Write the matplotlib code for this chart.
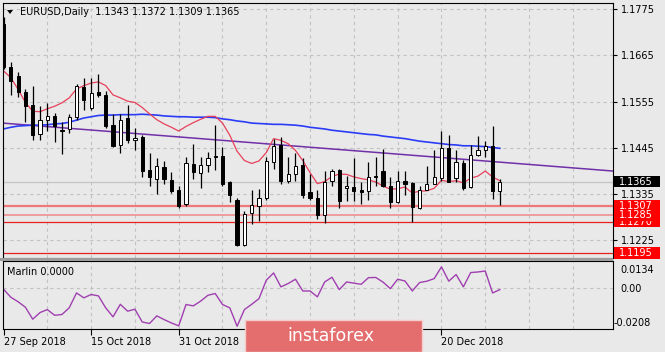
import matplotlib.pyplot as plt
import matplotlib.patches as mpatches
from matplotlib.transforms import blended_transform_factory
import pandas as pd

# daily bars, 27 Sep 2018 .. 3 Jan 2019 (no bars on 25 Dec and 1 Jan)
days = pd.bdate_range('2018-09-27', '2019-01-03')
days = days[~days.isin(pd.to_datetime(['2018-12-25', '2019-01-01']))]

opens = [1.1739, 1.1637, 1.1615, 1.1578, 1.1548, 1.1477, 1.1512, 1.1520, 1.1488, 1.1490,
         1.1518, 1.1589, 1.1540, 1.1578, 1.1571, 1.1499, 1.1453, 1.1516, 1.1463, 1.1471,
         1.1393, 1.1371, 1.1399, 1.1369, 1.1344, 1.1311, 1.1406, 1.1385, 1.1405, 1.1426,
         1.1426, 1.1363, 1.1322, 1.1215, 1.1291, 1.1308, 1.1326, 1.1412, 1.1453, 1.1367,
         1.1383, 1.1404, 1.1340, 1.1326, 1.1286, 1.1367, 1.1393, 1.1349, 1.1352, 1.1344,
         1.1342, 1.1379, 1.1390, 1.1354, 1.1316, 1.1367, 1.1361, 1.1303, 1.1346, 1.1360,
         1.1373, 1.1444, 1.1373, 1.1409, 1.1352, 1.1428, 1.1439, 1.1450, 1.1343]
highs = [1.1755, 1.1649, 1.1625, 1.1584, 1.1593, 1.1545, 1.1551, 1.1529, 1.1506, 1.1526,
         1.1598, 1.1612, 1.1612, 1.1620, 1.1581, 1.1526, 1.1526, 1.1548, 1.1493, 1.1475,
         1.1432, 1.1422, 1.1414, 1.1387, 1.1354, 1.1424, 1.1455, 1.1424, 1.1436, 1.1499,
         1.1447, 1.1367, 1.1326, 1.1295, 1.1346, 1.1348, 1.1424, 1.1466, 1.1471, 1.1424,
         1.1432, 1.1420, 1.1383, 1.1344, 1.1390, 1.1395, 1.1395, 1.1379, 1.1420, 1.1365,
         1.1412, 1.1424, 1.1442, 1.1375, 1.1390, 1.1391, 1.1365, 1.1354, 1.1401, 1.1440,
         1.1485, 1.1475, 1.1440, 1.1417, 1.1453, 1.1473, 1.1461, 1.1496, 1.1372]
lows = [1.1633, 1.1571, 1.1567, 1.1506, 1.1463, 1.1463, 1.1485, 1.1458, 1.1431, 1.1480,
        1.1512, 1.1534, 1.1534, 1.1565, 1.1493, 1.1447, 1.1432, 1.1457, 1.1439, 1.1377,
        1.1354, 1.1336, 1.1360, 1.1338, 1.1303, 1.1308, 1.1371, 1.1350, 1.1387, 1.1393,
        1.1354, 1.1316, 1.1213, 1.1213, 1.1264, 1.1271, 1.1322, 1.1394, 1.1358, 1.1361,
        1.1367, 1.1327, 1.1322, 1.1277, 1.1267, 1.1354, 1.1303, 1.1318, 1.1319, 1.1311,
        1.1322, 1.1354, 1.1352, 1.1303, 1.1313, 1.1334, 1.1270, 1.1300, 1.1344, 1.1358,
        1.1367, 1.1363, 1.1363, 1.1344, 1.1350, 1.1426, 1.1424, 1.1324, 1.1309]
closes = [1.1637, 1.1604, 1.1578, 1.1545, 1.1475, 1.1512, 1.1520, 1.1498, 1.1485, 1.1518,
          1.1592, 1.1559, 1.1575, 1.1571, 1.1496, 1.1450, 1.1512, 1.1463, 1.1469, 1.1390,
          1.1375, 1.1401, 1.1371, 1.1342, 1.1308, 1.1408, 1.1387, 1.1405, 1.1422, 1.1423,
          1.1360, 1.1334, 1.1215, 1.1289, 1.1309, 1.1327, 1.1414, 1.1450, 1.1367, 1.1383,
          1.1401, 1.1334, 1.1326, 1.1286, 1.1365, 1.1391, 1.1318, 1.1354, 1.1342, 1.1340,
          1.1375, 1.1377, 1.1354, 1.1316, 1.1367, 1.1358, 1.1305, 1.1346, 1.1358, 1.1377,
          1.1444, 1.1365, 1.1412, 1.1350, 1.1428, 1.1440, 1.1450, 1.1342, 1.1365]

# moving averages as shown on the chart
red_ma = [1.1628, 1.1612, 1.1584, 1.1553, 1.1532, 1.1531, 1.1538, 1.1544, 1.1552, 1.1564,
          1.1585, 1.1593, 1.1599, 1.1602, 1.1593, 1.1571, 1.1564, 1.1556, 1.1553, 1.1541,
          1.1526, 1.1512, 1.1502, 1.1494, 1.1485, 1.1496, 1.1505, 1.1513, 1.1520, 1.1520,
          1.1504, 1.1475, 1.1437, 1.1415, 1.1408, 1.1414, 1.1434, 1.1467, 1.1463, 1.1455,
          1.1439, 1.1415, 1.1386, 1.1360, 1.1365, 1.1377, 1.1383, 1.1382, 1.1376, 1.1372,
          1.1369, 1.1364, 1.1354, 1.1347, 1.1348, 1.1352, 1.1338, 1.1342, 1.1343, 1.1349,
          1.1368, 1.1365, 1.1367, 1.1362, 1.1373, 1.1378, 1.1390, 1.1376, 1.1367]
blue_ma = [1.1490, 1.1494, 1.1497, 1.1498, 1.1499, 1.1499, 1.1500, 1.1502, 1.1503, 1.1506,
           1.1511, 1.1516, 1.1519, 1.1522, 1.1523, 1.1523, 1.1524, 1.1524, 1.1524, 1.1525,
           1.1524, 1.1523, 1.1521, 1.1520, 1.1519, 1.1519, 1.1518, 1.1518, 1.1518, 1.1517,
           1.1514, 1.1512, 1.1509, 1.1507, 1.1504, 1.1503, 1.1502, 1.1501, 1.1501, 1.1500,
           1.1499, 1.1497, 1.1494, 1.1492, 1.1490, 1.1487, 1.1485, 1.1483, 1.1481, 1.1479,
           1.1477, 1.1476, 1.1473, 1.1471, 1.1469, 1.1467, 1.1464, 1.1461, 1.1459, 1.1457,
           1.1455, 1.1453, 1.1452, 1.1450, 1.1450, 1.1449, 1.1448, 1.1446, 1.1444]
trend_x = [-0.14, 83.5]
trend_y = [1.1504, 1.1390]

levels = [1.1307, 1.1285, 1.1270, 1.1195]
price_ticks = [1.1775, 1.1665, 1.1555, 1.1445, 1.1335, 1.1225]
last_price = 1.1365

marlin = [-0.0004, -0.0045, -0.0068, -0.0096, -0.0157, -0.0123, -0.0108, -0.0137, -0.0133, -0.0099,
          -0.0023, -0.0048, -0.0031, -0.0038, -0.0099, -0.0145, -0.0081, -0.0116, -0.0106, -0.0171,
          -0.0179, -0.0140, -0.0159, -0.0176, -0.0191, -0.0082, -0.0089, -0.0065, -0.0035, -0.0026,
          -0.0082, -0.0099, -0.0193, -0.0108, -0.0081, -0.0052, 0.0042, 0.0079, 0.0008, 0.0025,
          0.0047, -0.0013, -0.0013, -0.0043, 0.0033, 0.0057, -0.0006, 0.0033, 0.0027, 0.0021,
          0.0055, 0.0056, 0.0032, -0.0001, 0.0047, 0.0038, -0.0013, 0.0030, 0.0037, 0.0050,
          0.0110, 0.0037, 0.0071, 0.0008, 0.0081, 0.0084, 0.0089, -0.0023, -0.0006]

# date labels visible on the chart (the others sit under the watermark)
date_idx = [0, 12, 24, 60]

BG = '#e9e9e9'
GRID = '#c2c2c2'
W, H = 665, 352


def box(l, t, r, b):
    return [l / W, 1 - b / H, (r - l) / W, (b - t) / H]


fig = plt.figure(figsize=(W / 100, H / 100), dpi=100, facecolor=BG)
ax = fig.add_axes(box(2.5, 3, 613, 258), facecolor=BG)
ax2 = fig.add_axes(box(2.5, 261, 613, 329), facecolor=BG, sharex=ax)

idx = list(range(len(days)))

# grid
for a in (ax, ax2):
    for g in range(6, 84, 6):
        a.axvline(g, color=GRID, lw=0.8, ls=(0, (3, 3)), zorder=0)
for p in price_ticks:
    ax.axhline(p, color=GRID, lw=0.8, ls=(0, (3, 3)), zorder=0)
ax2.axhline(0, color=GRID, lw=0.8, ls=(0, (3, 3)), zorder=0)

ax.axhline(last_price, color='#c6c6c6', lw=1, zorder=0.5)

# support levels
ax.axhline(levels[0], color='#f07878', lw=1.6, zorder=1)
ax.axhline(levels[1], color='#f09090', lw=1.2, zorder=1)
ax.axhline(levels[2], color='#e82020', lw=0.9, zorder=1)
ax.axhline(levels[3], color='#e82020', lw=0.9, zorder=1)

# indicators
ax.plot(trend_x, trend_y, color='#7030a8', lw=1.1, zorder=2)
ax.plot(idx, blue_ma, color='#2a3cf5', lw=1.2, zorder=2)
ax.plot(idx, red_ma, color='#e8405a', lw=0.9, zorder=2)

# candles
ax.vlines(idx, lows, highs, color='black', lw=0.9, zorder=3)
bottoms = [min(o, c) for o, c in zip(opens, closes)]
heights = [max(abs(c - o), 0.00004) for o, c in zip(opens, closes)]
colors = ['white' if c > o else 'black' for o, c in zip(opens, closes)]
ax.bar(idx, heights, bottom=bottoms, width=0.44, color=colors,
       edgecolor='black', linewidth=0.7, zorder=4)

ax.set_xlim(-0.14, 83.5)
ax.set_ylim(1.11833, 1.17894)

# right price scale
ax.yaxis.tick_right()
ax.set_yticks(price_ticks)
ax.set_yticklabels([f'{p:.4f}' for p in price_ticks])
ax.tick_params(axis='y', length=3, width=0.8, pad=3, labelsize=7, colors='black')
ax.tick_params(axis='x', bottom=False, labelbottom=False)

tr = blended_transform_factory(ax.transAxes, ax.transData)
hh = 5.5 / 4073
bx0 = (614 - 2.5) / 610.5
bw = 46 / 610.5
tx = (619 - 2.5) / 610.5
tags = [(last_price, '#000000'), (levels[0], '#ff0000'), (levels[2], '#ff0000'),
        (levels[1], '#ff0000'), (levels[3], '#ff0000')]
z = 10
for val, fc in tags:
    ax.add_patch(mpatches.Rectangle((bx0, val - hh), bw, 2 * hh, transform=tr,
                                    clip_on=False, fc=fc, ec='none', zorder=z))
    ax.text(tx, val, f'{val:.4f}', transform=tr, va='center', ha='left',
            fontsize=7, color='white', clip_on=False, zorder=z + 1)
    z += 2

for s in ax.spines.values():
    s.set_color('black')
    s.set_linewidth(0.8)

# Marlin panel
ax2.plot(idx, marlin, color='#a040b0', lw=1.0)
ax2.set_ylim(-0.0207, 0.0140)
ax2.set_yticks([])
ax2.text(0.0074, 0.838, 'Marlin 0.0000', transform=ax2.transAxes, va='center',
         ha='left', fontsize=7)
for yf, lab, xp in [(0.868, '0.0134', 620), (0.588, '0.00', 620), (0.088, '-0.0208', 614)]:
    ax2.text((xp - 2.5) / 610.5, yf, lab, transform=ax2.transAxes, va='center',
             ha='left', fontsize=7, clip_on=False)
for s in ax2.spines.values():
    s.set_color('black')
    s.set_linewidth(0.8)

ax2.set_xticks(date_idx)
ax2.set_xticklabels([days[i].strftime('%d %b %Y') for i in date_idx], ha='left')
ax2.tick_params(axis='x', length=4, width=0.8, pad=1.5, labelsize=7)

# window separator
fig.patches.append(mpatches.Rectangle((0, 1 - 261 / H), 613 / W, 3.5 / H,
                                      transform=fig.transFigure, fc='#9c9c9c', ec='none'))

# header
fig.text(20 / W, 1 - 12 / H, 'EURUSD,Daily  1.1343 1.1372 1.1309 1.1365',
         va='center', ha='left', fontsize=7)
fig.patches.append(mpatches.Polygon([(7 / W, 1 - 10 / H), (13 / W, 1 - 10 / H), (10 / W, 1 - 14 / H)],
                                    closed=True, transform=fig.transFigure, fc='black', ec='none'))

# watermark
fig.patches.append(mpatches.Rectangle((245 / W, 0), (422 - 245) / W, (352 - 320) / H,
                                      transform=fig.transFigure, fc='#e46e6e',
                                      ec='#f4cccc', lw=1))
fig.text(331 / W, 1 - 336 / H, 'instaforex', color='white', fontsize=12.5,
         ha='center', va='center')

fig.savefig('out.png', dpi=100, facecolor=BG)
